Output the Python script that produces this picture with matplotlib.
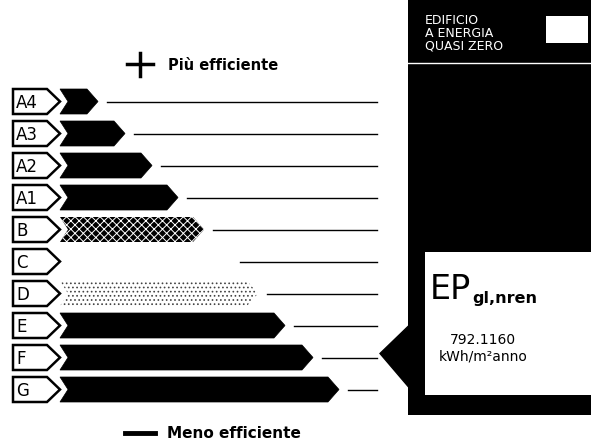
import matplotlib
matplotlib.use("Agg")
import matplotlib.pyplot as plt
from matplotlib.patches import Polygon, Rectangle

# classi energetiche e lunghezza (px) della freccia di ciascuna classe
classi = ["A4", "A3", "A2", "A1", "B", "C", "D", "E", "F", "G"]
punte = [98, 125, 152, 178, 204, 231, 258, 285, 313, 339]
riempimenti = ["black", "black", "black", "black", "fitto", "vuoto", "rado", "black", "black", "black"]
classe_edificio = "F"
ep_valore = "792.1160"
ep_unita = "kWh/m²anno"

plt.rcParams["hatch.linewidth"] = 0.7

fig = plt.figure(figsize=(5.91, 4.43), dpi=100)
ax = fig.add_axes([0, 0, 1, 1])
ax.set_xlim(0, 591)
ax.set_ylim(443, 0)
ax.axis("off")

y0, passo, h = 101.5, 32.0, 25
fine_linee = 377

for i, (cl, tip, fill) in enumerate(zip(classi, punte, riempimenti)):
    yc = y0 + i * passo
    top, bot = yc - h / 2, yc + h / 2
    # etichetta della classe
    tag = Polygon([(13, top), (47, top), (60, yc), (47, bot), (13, bot)],
                  closed=True, facecolor="white", edgecolor="black", lw=1.8)
    ax.add_patch(tag)
    ax.text(16, yc + 1, cl, fontsize=12, va="center", ha="left")
    # freccia
    pts = [(60, top), (tip - 11, top), (tip, yc), (tip - 11, bot), (60, bot), (68, yc)]
    if fill == "black":
        p = Polygon(pts, closed=True, facecolor="black", edgecolor="black", lw=0.5)
    elif fill == "fitto":
        p = Polygon(pts, closed=True, facecolor="black", edgecolor="white", hatch="xxxx", lw=0)
    elif fill == "rado":
        p = Polygon(pts, closed=True, facecolor="white", edgecolor="#444444", hatch="....", lw=0)
    else:
        p = Polygon(pts, closed=True, facecolor="white", edgecolor="none", lw=0)
    ax.add_patch(p)
    # linea di riferimento
    ax.plot([tip + 9, fine_linee], [yc, yc], color="black", lw=1)

# legenda più / meno efficiente
ax.plot([127, 153], [64, 64], color="black", lw=2.5)
ax.plot([140, 140], [53, 76], color="black", lw=2.5)
ax.text(168, 65, "Più efficiente", fontsize=10.5, ha="left", va="center", fontweight="bold")
ax.plot([125, 155], [433, 433], color="black", lw=3.5)
ax.text(167, 433, "Meno efficiente", fontsize=11, ha="left", va="center", fontweight="bold")

# pannello destro
ax.add_patch(Rectangle((408, 0), 183, 415, facecolor="black", edgecolor="none"))
ax.plot([408, 591], [63, 63], color="white", lw=1)
ax.text(425, 33, "EDIFICIO\nA ENERGIA\nQUASI ZERO", color="white", fontsize=9,
        ha="left", va="center", linespacing=1.0)
ax.add_patch(Rectangle((546, 16), 42, 27, facecolor="white", edgecolor="none"))
ax.add_patch(Rectangle((425, 252), 166, 143, facecolor="white", edgecolor="none"))
ax.text(430, 299, "EP", fontsize=24, ha="left", va="baseline")
ax.text(472, 303, "gl,nren", fontsize=11.5, ha="left", va="baseline", fontweight="bold")
ax.text(483, 340, ep_valore, fontsize=10, ha="center", va="center")
ax.text(483, 357, ep_unita, fontsize=10, ha="center", va="center")

# freccia indicatrice della classe dell'edificio
yf = y0 + classi.index(classe_edificio) * passo
ax.add_patch(Polygon([(380, yf - 4), (409, yf - 32), (409, yf + 30)],
                     closed=True, facecolor="black", edgecolor="black"))

fig.savefig("out.png", dpi=100, facecolor="white")
